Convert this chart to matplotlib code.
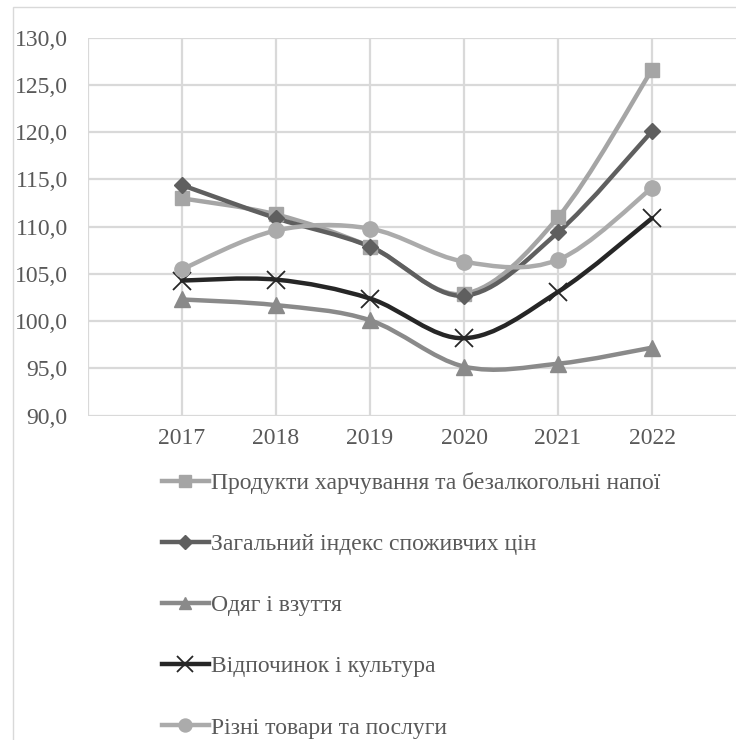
import matplotlib
matplotlib.use('Agg')

import numpy as np
import matplotlib.pyplot as plt
from matplotlib.path import Path
from matplotlib.patches import PathPatch, Rectangle
from matplotlib.lines import Line2D

years = [2017, 2018, 2019, 2020, 2021, 2022]

food = [113.0, 111.3, 107.9, 102.9, 111.0, 126.6]
cpi = [114.4, 110.9, 107.9, 102.7, 109.4, 120.1]
clothing = [102.3, 101.7, 100.1, 95.2, 95.5, 97.2]
recreation = [104.3, 104.4, 102.4, 98.2, 103.1, 110.9]
misc = [105.5, 109.6, 109.8, 106.3, 106.5, 114.1]

labels = [
    'Продукти харчування та безалкогольні напої',
    'Загальний індекс споживчих цін',
    'Одяг і взуття',
    'Відпочинок і культура',
    'Різні товари та послуги',
]

plt.rcParams['font.family'] = ['Liberation Serif', 'DejaVu Serif']
TXT = '#595959'
GRID = '#D9D9D9'


def smooth_path(x, y):
    # Excel-like smoothed line: Catmull-Rom segments as cubic Beziers
    p = np.column_stack([x, y]).astype(float)
    verts = [p[0]]
    codes = [Path.MOVETO]
    n = len(p)
    for i in range(n - 1):
        p0 = p[i - 1] if i > 0 else p[i]
        p3 = p[i + 2] if i + 2 < n else p[i + 1]
        c1 = p[i] + (p[i + 1] - p0) / 6
        c2 = p[i + 1] - (p3 - p[i]) / 6
        verts += [c1, c2, p[i + 1]]
        codes += [Path.CURVE4] * 3
    return Path(verts, codes)


W, H = 736, 740
fig = plt.figure(figsize=(W / 100, H / 100), dpi=100)

# chart area border
fig.patches.append(Rectangle((12.7 / W, -0.2), 2, 1.2 - 7.3 / H,
                             transform=fig.transFigure, fill=False,
                             edgecolor=GRID, lw=1))

ax = fig.add_axes([88 / W, 1 - 415.7 / H, (W - 88) / W, (415.7 - 37.7) / H])
ax.set_xlim(2016, 2016 + (W - 88) / 94)
ax.set_ylim(90, 130)
ax.set_yticks(np.arange(90, 131, 5))
ax.set_yticklabels([f'{v:.1f}'.replace('.', ',') for v in np.arange(90, 131, 5)])
ax.set_xticks(years)
ax.set_xticks([2016], minor=True)
ax.grid(True, color=GRID, lw=1.6)
ax.grid(True, which='minor', axis='x', color=GRID, lw=1.6)
ax.tick_params(length=0, colors=TXT, labelsize=17)
ax.tick_params(axis='y', pad=14.5)
ax.tick_params(axis='x', pad=9)
ax.tick_params(which='minor', length=0)
for s in ax.spines.values():
    s.set_visible(False)
ax.set_axisbelow(True)

series = [
    (food, '#A5A5A5', 's', 10, 1.0),
    (cpi, '#5F5F5F', 'D', 8.5, 1.0),
    (clothing, '#8A8A8A', '^', 11, 1.0),
    (recreation, '#262626', 'x', 13, 1.3),
    (misc, '#ABABAB', 'o', 11, 1.0),
]

handles = []
for (vals, col, mk, ms, mew), lab in zip(series, labels):
    ax.add_patch(PathPatch(smooth_path(years, vals), fill=False,
                           edgecolor=col, lw=3.2, zorder=3,
                           capstyle='round', joinstyle='round'))
    ax.plot(years, vals, ls='none', marker=mk, ms=ms, color=col,
            mec=col, mew=mew, zorder=4)
    handles.append(Line2D([], [], color=col, lw=3.2, marker=mk, ms=ms * 0.85,
                          mec=col, mew=mew))

leg = fig.legend(handles, labels, loc='upper left',
                 bbox_to_anchor=(150 / W, 1 - 460 / H), frameon=False,
                 fontsize=17, labelcolor=TXT, handlelength=2.0,
                 handletextpad=0.1, labelspacing=1.68, borderpad=0)

fig.savefig('out.png', dpi=100)
